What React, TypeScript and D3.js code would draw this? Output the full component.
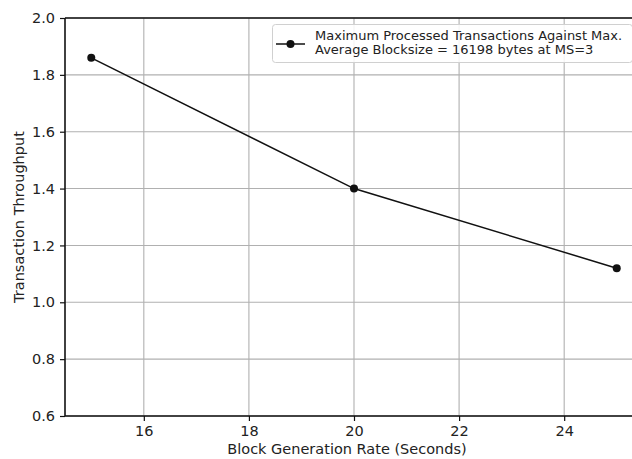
import React, { useEffect, useRef } from 'react'
import * as d3 from 'd3'

// block generation rate (s) vs throughput
const rates = [15, 20, 25]
const throughput = [1.86, 1.4, 1.12]
const xTicks = [16, 18, 20, 22, 24]
const yTicks = [0.6, 0.8, 1.0, 1.2, 1.4, 1.6, 1.8, 2.0]
const legendLines = [
  'Maximum Processed Transactions Against Max.',
  'Average Blocksize = 16198 bytes at MS=3',
]

const W = 632,
  H = 459,
  LEFT = 65,
  RIGHT = 643,
  TOP = 18,
  BOTTOM = 416

export default function App() {
  const ref = useRef<SVGSVGElement>(null)

  useEffect(() => {
    const svg = d3.select(ref.current)
    svg.selectAll('*').remove()
    const font = 'DejaVu Sans, sans-serif'

    const x = d3.scaleLinear().domain([14.5, 25.5]).range([LEFT, RIGHT])
    const y = d3.scaleLinear().domain([0.6, 2.0]).range([BOTTOM, TOP])

    svg.append('rect').attr('width', W).attr('height', H).attr('fill', '#fff')

    // grid
    svg.append('g')
      .selectAll('line')
      .data(xTicks)
      .enter()
      .append('line')
      .attr('x1', d => x(d)).attr('x2', d => x(d))
      .attr('y1', TOP).attr('y2', BOTTOM)
      .attr('stroke', '#b0b0b0').attr('stroke-width', 1.1)
    svg.append('g')
      .selectAll('line')
      .data(yTicks)
      .enter()
      .append('line')
      .attr('x1', LEFT).attr('x2', RIGHT)
      .attr('y1', d => y(d)).attr('y2', d => y(d))
      .attr('stroke', '#b0b0b0').attr('stroke-width', 1.1)

    // axes
    const xAxis = svg.append('g')
      .attr('transform', `translate(0,${BOTTOM})`)
      .call(d3.axisBottom(x).tickValues(xTicks).tickFormat(d3.format('d')).tickSize(5).tickPadding(5))
    const yAxis = svg.append('g')
      .attr('transform', `translate(${LEFT},0)`)
      .call(d3.axisLeft(y).tickValues(yTicks).tickFormat(d3.format('.1f')).tickSize(5).tickPadding(5))
    for (const a of [xAxis, yAxis]) {
      a.select('.domain').remove()
      a.selectAll('line').attr('stroke', '#111').attr('stroke-width', 1.2)
      a.selectAll('text').attr('font-family', font).attr('font-size', 14.5).attr('fill', '#222')
    }

    // spines
    svg.append('line').attr('x1', LEFT).attr('x2', LEFT).attr('y1', TOP).attr('y2', BOTTOM)
      .attr('stroke', '#111').attr('stroke-width', 1.6)
    svg.append('line').attr('x1', LEFT).attr('x2', RIGHT).attr('y1', BOTTOM).attr('y2', BOTTOM)
      .attr('stroke', '#111').attr('stroke-width', 1.6)
    svg.append('line').attr('x1', LEFT).attr('x2', RIGHT).attr('y1', TOP).attr('y2', TOP)
      .attr('stroke', '#111').attr('stroke-width', 1.6)

    // series
    const pts = rates.map((r, i) => [r, throughput[i]] as [number, number])
    svg.append('path')
      .datum(pts)
      .attr('d', d3.line<[number, number]>().x(d => x(d[0])).y(d => y(d[1])))
      .attr('fill', 'none').attr('stroke', '#111').attr('stroke-width', 1.5)
    svg.selectAll('.pt')
      .data(pts)
      .enter()
      .append('circle')
      .attr('class', 'pt')
      .attr('cx', d => x(d[0])).attr('cy', d => y(d[1]))
      .attr('r', 4).attr('fill', '#111')

    // legend
    svg.append('rect')
      .attr('x', 272.5).attr('y', 24.5).attr('width', 360).attr('height', 38).attr('rx', 3)
      .attr('fill', '#fff').attr('fill-opacity', 0.85).attr('stroke', '#d0d0d0')
    svg.append('line').attr('x1', 276).attr('x2', 305).attr('y1', 44).attr('y2', 44)
      .attr('stroke', '#111').attr('stroke-width', 1.5)
    svg.append('circle').attr('cx', 290.5).attr('cy', 44).attr('r', 4).attr('fill', '#111')
    svg.selectAll('.lg')
      .data(legendLines)
      .enter()
      .append('text')
      .attr('class', 'lg')
      .attr('x', 315)
      .attr('y', (d, i) => 39.5 + i * 14.5)
      .attr('font-family', font).attr('font-size', 13).attr('fill', '#222')
      .text(d => d)

    // axis labels
    svg.append('text')
      .attr('x', 347).attr('y', 454)
      .attr('text-anchor', 'middle')
      .attr('font-family', font).attr('font-size', 14.5).attr('fill', '#222')
      .text('Block Generation Rate (Seconds)')
    svg.append('text')
      .attr('transform', `translate(24,${(TOP + BOTTOM) / 2}) rotate(-90)`)
      .attr('text-anchor', 'middle')
      .attr('font-family', font).attr('font-size', 14.5).attr('fill', '#222')
      .text('Transaction Throughput')
  }, [])

  return (
    <svg
      ref={ref}
      width={W}
      height={H}
      style={{ position: 'absolute', left: 0, top: 0, display: 'block' }}
    />
  )
}
